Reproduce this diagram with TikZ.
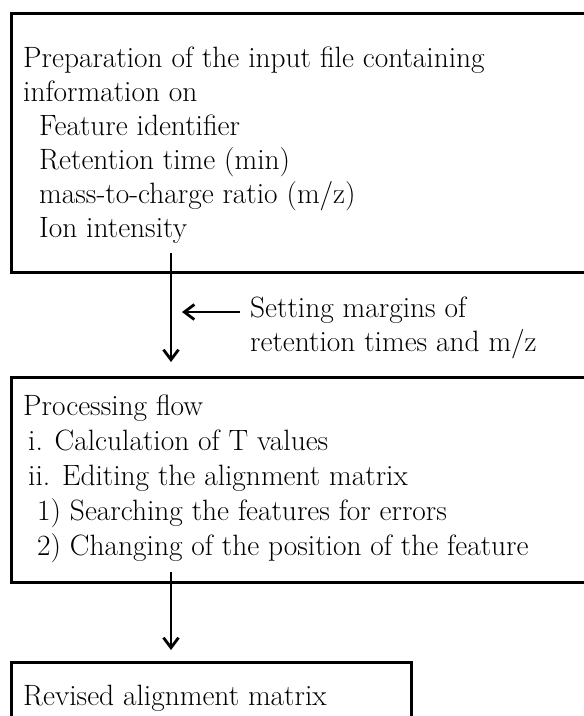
\documentclass[tikz,border=0pt]{standalone}
\usetikzlibrary{arrows.meta}
\begin{document}
\begin{tikzpicture}[x=1pt,y=-1pt,
  boxline/.style={draw=black,line width=3pt},
  ln/.style={anchor=base west,inner sep=0pt,font=\fontsize{29.4}{34}\selectfont},
  arr/.style={line width=2.8pt,-{Straight Barb[length=10pt,width=15pt]}}]
\useasboundingbox (0,0) rectangle (584,716);
\clip (0,0) rectangle (584,716);
% box 1
\draw[boxline] (11,13) rectangle (600,272);
\node[ln] (a1) at (23,67)  {Preparation of the input file containing};
\node[ln] (a2) at (23,101) {information on};
\node[ln] (a3) at (39,135) {Feature identifier};
\node[ln] (a4) at (39,169) {Retention time (min)};
\node[ln] (a5) at (39,203) {mass-to-charge ratio (m/z)};
\node[ln] (a6) at (39,237) {Ion intensity};
% box 2
\draw[boxline] (11,377) rectangle (600,582);
\node[ln] (b1) at (23,415) {Processing flow};
\node[ln] (b2) at (28,450) {i. Calculation of T values};
\node[ln] (b3) at (28,485) {ii. Editing the alignment matrix};
\node[ln] (b4) at (37,520) {1) Searching the features for errors};
\node[ln] (b5) at (37,555) {2) Changing of the position of the feature};
% box 3
\draw[boxline] (11,662) rectangle (411,730);
\node[ln] (c1) at (23,705) {Revised alignment matrix};
% side note
\node[ln] (s1) at (250,317) {Setting margins of};
\node[ln] (s2) at (250,351) {retention times and m/z};
% connectors
\coordinate (p1) at (171,253);
\coordinate (q1) at (171,362);
\coordinate (p2) at (171,572);
\coordinate (q2) at (171,650);
\coordinate (sa) at (240,312);
\coordinate (sb) at (182,312);
\draw[arr] (p1) -- (q1);
\draw[arr] (p2) -- (q2);
\draw[arr] (sa) -- (sb);
\end{tikzpicture}
\end{document}
